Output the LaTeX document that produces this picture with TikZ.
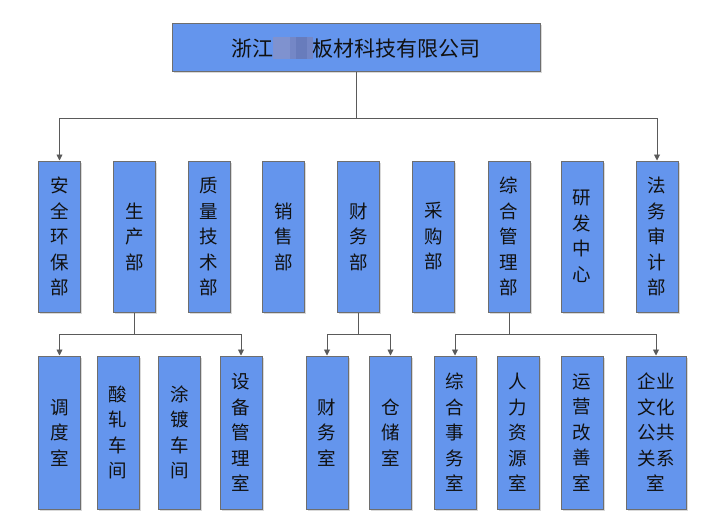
\documentclass[tikz,border=0pt]{standalone}
\usepackage{fontspec}
\newfontfamily\cjk{Noto Sans CJK SC}
\usetikzlibrary{arrows.meta,shadows}
\definecolor{boxblue}{HTML}{6495ED}
\definecolor{boxline}{HTML}{6E6E6E}
\definecolor{connc}{HTML}{5A5A5A}
\definecolor{txt}{HTML}{111111}
\definecolor{blurA}{HTML}{7F92CF}
\definecolor{blurB}{HTML}{687CBC}
\definecolor{blurC}{HTML}{7487C6}
\newcommand\blurpart{{\color{blurA}\rule[-0.14em]{0.8em}{1.08em}}{\color{blurC}\rule[-0.14em]{0.3em}{1.08em}}{\color{blurB}\rule[-0.14em]{0.5em}{1.08em}}{\color{blurC}\rule[-0.14em]{0.3em}{1.08em}}}
\begin{document}
\begin{tikzpicture}[x=1pt,y=-1pt,
  box/.style={draw=boxline, line width=1pt, fill=boxblue, text=txt,
    font=\cjk\fontsize{18.5}{25.5}\selectfont, align=center, inner sep=0pt,
    minimum width=42pt,
    drop shadow={shadow xshift=1.5pt,shadow yshift=-1.5pt,fill=black,opacity=0.15}},
  rowb/.style={box, minimum height=151pt},
  rowc/.style={box, minimum height=153pt},
  link/.style={draw=connc, line width=0.9pt},
  arr/.style={link, -{Triangle[width=6pt,length=6pt]}}]
\useasboundingbox (0,0) rectangle (711,524);
\fill[white] (0,0) rectangle (711,524);

\node[box, minimum width=368pt, minimum height=48pt, font=\cjk\fontsize{21}{24}\selectfont] (top) at (356,48) {浙江\blurpart 板材科技有限公司};

% second row
\node[rowb] (a1) at (59.5,236.5) {安\\全\\环\\保\\部};
\node[rowb] (a2) at (134.5,236.5) {生\\产\\部};
\node[rowb] (a3) at (209,236.5) {质\\量\\技\\术\\部};
\node[rowb] (a4) at (283.5,236.5) {销\\售\\部};
\node[rowb] (a5) at (358.5,236.5) {财\\务\\部};
\node[rowb] (a6) at (433.5,236.5) {采\\购\\部};
\node[rowb] (a7) at (509,236.5) {综\\合\\管\\理\\部};
\node[rowb] (a8) at (582,236.5) {研\\发\\中\\心};
\node[rowb] (a9) at (657,236.5) {法\\务\\审\\计\\部};

% third row
\node[rowc] (b1) at (59.5,432.5) {调\\度\\室};
\node[rowc] (b2) at (118,432.5) {酸\\轧\\车\\间};
\node[rowc] (b3) at (179.5,432.5) {涂\\镀\\车\\间};
\node[rowc] (b4) at (241,432.5) {设\\备\\管\\理\\室};
\node[rowc] (b5) at (327,432.5) {财\\务\\室};
\node[rowc] (b6) at (390.5,432.5) {仓\\储\\室};
\node[rowc] (b7) at (455,432.5) {综\\合\\事\\务\\室};
\node[rowc] (b8) at (518,432.5) {人\\力\\资\\源\\室};
\node[rowc] (b9) at (582,432.5) {运\\营\\改\\善\\室};
\node[rowc, minimum width=60pt] (b10) at (656,432.5) {企业\\文化\\公共\\关系\\室};

% connectors
\path (top.south) ++(0,46) coordinate (j0);
\draw[link] (top.south) -- (j0);
\draw[arr] (j0) -| (a1.north);
\draw[arr] (j0) -| (a9.north);

\path (a2.south) ++(0,22) coordinate (j2);
\draw[link] (a2.south) -- (j2);
\draw[arr] (j2) -| (b1.north);
\draw[arr] (j2) -| (b4.north);

\path (a5.south) ++(0,22) coordinate (j5);
\draw[link] (a5.south) -- (j5);
\draw[arr] (j5) -| (b5.north);
\draw[arr] (j5) -| (b6.north);

\path (a7.south) ++(0,22) coordinate (j7);
\draw[link] (a7.south) -- (j7);
\draw[arr] (j7) -| (b7.north);
\draw[arr] (j7) -| (b10.north);
\end{tikzpicture}
\end{document}
